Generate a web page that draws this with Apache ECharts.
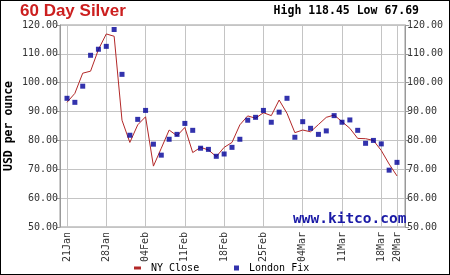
<!DOCTYPE html>
<html><head><meta charset="utf-8">
<script src="https://cdn.jsdelivr.net/npm/echarts@6/dist/echarts.min.js"></script>
<style>
html,body{margin:0;padding:0;background:#fff;}
#c{position:absolute;left:0;top:0;width:450px;height:275px;}
#b{position:absolute;left:0;top:0;width:450px;height:275px;box-sizing:border-box;border:1px solid #000;pointer-events:none;}
</style></head>
<body><div id="c"></div><div id="b"></div>
<script>
const dates = ['21Jan','22Jan','23Jan','24Jan','25Jan','28Jan','29Jan','30Jan','31Jan','01Feb',
 '04Feb','05Feb','06Feb','07Feb','08Feb','11Feb','12Feb','13Feb','14Feb','15Feb',
 '18Feb','19Feb','20Feb','21Feb','22Feb','25Feb','26Feb','27Feb','28Feb','01Mar',
 '04Mar','05Mar','06Mar','07Mar','08Mar','11Mar','12Mar','13Mar','14Mar','15Mar',
 '18Mar','19Mar','20Mar'];
const tickLabels = ['21Jan','28Jan','04Feb','11Feb','18Feb','25Feb','04Mar','11Mar','18Mar','20Mar'];
const nyClose = [93.2,96.3,103.3,104.0,111.5,116.9,116.1,87.0,79.3,85.4,
 88.2,71.1,77.3,83.6,81.6,84.5,75.8,77.6,76.7,74.4,
 77.6,79.3,85.4,88.5,87.7,89.6,88.6,94.0,89.4,82.7,
 83.6,83.0,85.5,88.0,88.8,86.5,84.2,80.7,80.6,80.0,
 76.5,71.8,67.69];
const londonFix = [94.6,93.2,98.8,109.5,111.6,112.6,118.45,102.9,81.8,87.3,
 90.4,78.7,74.9,80.4,82.1,85.9,83.5,77.3,76.9,74.5,
 75.3,77.6,80.4,87.0,88.0,90.4,86.3,89.8,94.6,81.1,
 86.5,84.2,82.1,83.3,88.6,86.3,87.1,83.5,79.0,80.0,
 78.8,69.7,72.4];
const yMin = 50, yMax = 120, yStep = 10;

const hi = Math.max(...nyClose, ...londonFix);
const lo = Math.min(...nyClose, ...londonFix);
const mono = 'DejaVu Sans Mono';
const showTick = (i, v) => tickLabels.indexOf(dates[i]) >= 0;

const chart = echarts.init(document.getElementById('c'), null, {renderer:'canvas'});
chart.setOption({
  animation: false,
  backgroundColor: '#fff',
  title: [
    {text:'60 Day Silver', left:20, top:3, padding:0,
     textStyle:{fontFamily:'Liberation Sans', fontWeight:'bold', fontSize:17, color:'#cc1f1f'}},
    {text:'High ' + hi.toFixed(2) + ' Low ' + lo.toFixed(2), right:31, top:5, padding:0,
     textStyle:{fontFamily:mono, fontWeight:'bold', fontSize:11.5, color:'#000'}},
    {text:'www.kitco.com', left:293, top:212, padding:0, z:10,
     textStyle:{fontFamily:mono, fontWeight:'bold', fontSize:14.5, color:'#1a1aa6'}}
  ],
  legend: [
    {left:134, top:263, padding:0, icon:'rect', itemWidth:7, itemHeight:3,
     data:['NY Close'],
     textStyle:{fontFamily:mono, fontSize:10, color:'#000', padding:[0,0,0,5]}},
    {left:234, top:263, padding:0, icon:'rect', itemWidth:5, itemHeight:5,
     data:['London Fix'],
     textStyle:{fontFamily:mono, fontSize:10, color:'#000', padding:[0,0,0,5]}}
  ],
  grid: [
    {left:60, right:45, top:25, bottom:48, outerBoundsMode:'none', containLabel:false,
     show:true, borderColor:'#999', borderWidth:1, backgroundColor:'#fff'},
    {left:67, right:53, top:25, bottom:48, outerBoundsMode:'none', containLabel:false}
  ],
  xAxis: [
    {gridIndex:0, type:'value', min:0, max:1, show:false},
    {gridIndex:1, type:'category', data:dates, boundaryGap:false,
     axisLine:{show:false}, axisTick:{show:false},
     axisLabel:{interval:showTick, rotate:90, margin:5, fontFamily:mono, fontSize:10, color:'#333'},
     splitLine:{show:true, interval:showTick, lineStyle:{color:'#c4c4c4', width:1}}}
  ],
  yAxis: [
    {gridIndex:0, type:'value', position:'left', min:yMin, max:yMax, interval:yStep,
     name:'USD per ounce', nameLocation:'middle', nameRotate:90, nameGap:45, nameMoveOverlap:false,
     nameTextStyle:{fontFamily:mono, fontWeight:'bold', fontSize:11.5, color:'#000'},
     axisLine:{show:true, lineStyle:{color:'#999'}},
     axisTick:{show:true, length:4, lineStyle:{color:'#999'}},
     axisLabel:{margin:2, formatter:v=>v.toFixed(2), fontFamily:mono, fontSize:10, color:'#333'},
     splitLine:{show:true, lineStyle:{color:'#c4c4c4', width:1}}},
    {gridIndex:0, type:'value', position:'right', min:yMin, max:yMax, interval:yStep,
     axisLine:{show:true, lineStyle:{color:'#999'}},
     axisTick:{show:true, length:4, lineStyle:{color:'#999'}},
     axisLabel:{margin:2, formatter:v=>v.toFixed(2), fontFamily:mono, fontSize:10, color:'#333'},
     splitLine:{show:false}},
    {gridIndex:1, type:'value', min:yMin, max:yMax, show:false}
  ],
  series: [
    {name:'NY Close', type:'line', xAxisIndex:1, yAxisIndex:2, data:nyClose,
     showSymbol:false, symbol:'none', color:'#b32828',
     lineStyle:{color:'#b32828', width:1}, z:3},
    {name:'London Fix', type:'scatter', xAxisIndex:1, yAxisIndex:2, data:londonFix,
     symbol:'rect', symbolSize:5, color:'#000099',
     itemStyle:{color:'#000099'}, z:4}
  ]
});
</script></body></html>
